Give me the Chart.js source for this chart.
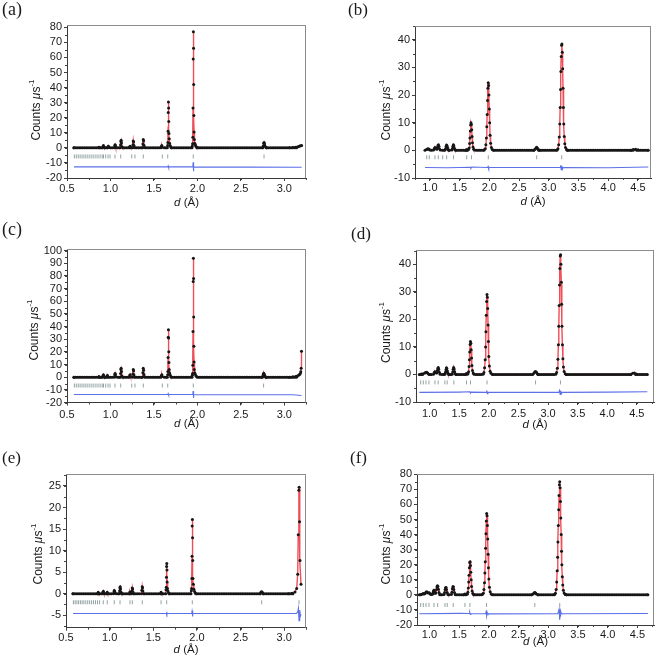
<!DOCTYPE html>
<html>
<head>
<meta charset="utf-8">
<script src="https://cdn.jsdelivr.net/npm/chart.js@4.4.1/dist/chart.umd.min.js"></script>
<style>
  body { margin: 0; background: #fff; width: 659px; height: 657px; position: relative; overflow: hidden; }
  canvas { position: absolute; }
</style>
</head>
<body>
<canvas id="pa"></canvas>
<canvas id="pb"></canvas>
<canvas id="pc"></canvas>
<canvas id="pd"></canvas>
<canvas id="pe"></canvas>
<canvas id="pf"></canvas>
<script>
// ---- data: [d (A), counts per us] ----

// background d positions where the observed counts sit on zero
var shortBg = [0.58,0.60,0.62,0.64,0.66,0.68,0.70,0.72,0.74,0.76,0.78,0.80,0.82,0.84,0.86,0.88,0.90,0.92,0.94,0.96,0.98,1.00,1.02,1.04,1.06,1.08,1.10,1.12,1.14,1.16,1.18,1.20,1.22,1.24,1.26,1.28,1.30,1.32,1.34,1.36,1.38,1.40,1.42,1.44,1.46,1.48,1.50,1.52,1.54,1.56,1.58,1.60,1.62,1.64,1.66,1.68,1.70,1.72,1.74,1.76,1.78,1.80,1.82,1.84,1.86,1.88,1.90,1.92,1.94,1.96,1.98,2.00,2.02,2.04,2.06,2.08,2.10,2.12,2.14,2.16,2.18,2.20,2.22,2.24,2.26,2.28,2.30,2.32,2.34,2.36,2.38,2.40,2.42,2.44,2.46,2.48,2.50,2.52,2.54,2.56,2.58,2.60,2.62,2.64,2.66,2.68,2.70,2.72,2.74,2.76,2.78,2.80,2.82,2.84,2.86,2.88,2.90,2.92,2.94,2.96,2.98,3.00,3.02,3.04,3.06,3.08,3.10,3.12,3.14,3.16,3.18,3.20];
var longBg = [0.82,0.85,0.88,0.91,0.94,0.97,1.00,1.03,1.06,1.09,1.12,1.15,1.18,1.21,1.24,1.27,1.30,1.33,1.36,1.39,1.42,1.45,1.48,1.51,1.54,1.57,1.60,1.63,1.66,1.69,1.72,1.75,1.78,1.81,1.84,1.87,1.90,1.93,1.96,1.99,2.02,2.05,2.08,2.11,2.14,2.17,2.20,2.23,2.26,2.29,2.32,2.35,2.38,2.41,2.44,2.47,2.50,2.53,2.56,2.59,2.62,2.65,2.68,2.71,2.74,2.77,2.80,2.83,2.86,2.89,2.92,2.95,2.98,3.01,3.04,3.07,3.10,3.13,3.16,3.19,3.22,3.25,3.28,3.31,3.34,3.37,3.40,3.43,3.46,3.49,3.52,3.55,3.58,3.61,3.64,3.67,3.70,3.73,3.76,3.79,3.82,3.85,3.88,3.91,3.94,3.97,4.00,4.03,4.06,4.09,4.12,4.15,4.18,4.21,4.24,4.27,4.30,4.33,4.36,4.39,4.42,4.45,4.48,4.51,4.54,4.57,4.60,4.63,4.66];

// (a)
var aObs = [[0.58,0],[0.86,0],[0.868,0.4],[0.876,0],
  [0.908,0],[0.914,0.8],[0.919,1.5],[0.925,0.6],[0.932,0],[0.966,0],[0.972,0.7],[0.977,1],[0.984,0.2],
  [1.044,0],[1.049,1.2],[1.053,2],[1.057,1.5],[1.063,0.2],
  [1.111,0],[1.116,2],[1.120,4.2],[1.123,5],[1.127,3.2],[1.133,0.8],[1.140,0],
  [1.216,0],[1.222,0.7],[1.226,1],[1.232,0.2],
  [1.253,0],[1.258,2],[1.262,4.5],[1.266,3.8],[1.270,1.5],[1.277,0.2],
  [1.368,0],[1.373,2.5],[1.377,5.5],[1.381,4.5],[1.385,1.8],[1.392,0.3],
  [1.580,0],[1.586,0.9],[1.591,1.5],[1.597,0.4],
  [1.654,0],[1.658,1.5],[1.661,3.5],[1.663,11],[1.665,23.5],[1.667,30.5],[1.669,26.5],[1.671,17.5],[1.673,9.5],[1.676,6],[1.680,3],[1.686,1.5],[1.694,0.5],[1.700,0],
  [1.938,0],[1.942,1.3],[1.945,2.8],[1.948,7],[1.950,26.5],[1.952,59],[1.954,77],[1.956,66],[1.958,42],[1.960,21.5],[1.962,10.5],[1.965,5.5],[1.969,3],[1.975,2.3],[1.983,1],[1.993,0.3],[2.003,0],
  [2.752,0],[2.758,1.3],[2.763,3],[2.768,3.6],[2.773,2.6],[2.780,1],[2.788,0.3],[2.796,0],
  [3.06,0],[3.10,0.2],[3.13,0.4],[3.15,0.6],[3.165,0.9],[3.178,1.2],[3.19,1.4],[3.20,1.6]];
var aRefl = [0.585,0.607,0.629,0.651,0.673,0.695,0.717,0.740,0.763,0.786,0.809,0.833,0.857,0.881,0.905,0.920,0.945,0.972,0.995,1.052,1.118,1.245,1.282,1.378,1.597,1.659,1.953,2.767];
var aDiff = [[0.58,-12.6],[1.660,-12.6],[1.664,-12.0],[1.668,-13.2],[1.672,-12.6],[1.945,-12.6],[1.949,-11.5],[1.952,-9.5],[1.955,-15.5],[1.958,-13.5],[1.962,-12.6],[3.20,-12.9]];

// (b)
var bObs = [[0.918,0],[0.945,0.3],[0.958,0.5],[0.972,0.6],[0.986,0.4],[1.00,0.1],
  [1.062,0.1],[1.075,0.7],[1.086,1],[1.097,0.6],
  [1.118,0.4],[1.128,1.1],[1.136,1.8],[1.144,2],[1.152,1.5],[1.162,0.6],[1.175,0.1],
  [1.255,0.1],[1.265,0.6],[1.273,1.4],[1.281,1.9],[1.289,1.7],[1.297,1.0],[1.307,0.3],[1.32,0],
  [1.370,0.1],[1.380,0.7],[1.388,1.5],[1.396,2],[1.404,1.6],[1.412,0.8],[1.422,0.2],[1.435,0],
  [1.605,0],[1.62,0.3],[1.635,0.1],
  [1.650,0.3],[1.660,0.9],[1.668,2.5],[1.674,4.5],[1.680,7],[1.686,9.2],[1.692,10],[1.698,9.4],[1.704,7.5],[1.710,5],[1.717,2.8],[1.726,1.2],[1.738,0.4],[1.75,0.1],
  [1.915,0.1],[1.930,0.6],[1.942,2],[1.951,4.5],[1.958,8.5],[1.964,13],[1.970,18],[1.976,22.5],[1.982,24.5],[1.988,23.5],[1.994,20],[2.000,15],[2.006,10],[2.013,5.5],[2.022,2.6],[2.035,1],[2.05,0.3],[2.07,0],
  [2.75,0],[2.77,0.4],[2.785,0.9],[2.797,1.1],[2.81,0.8],[2.825,0.3],[2.845,0],
  [3.14,0.1],[3.155,0.6],[3.167,2],[3.177,4.8],[3.185,9.5],[3.192,15.5],[3.198,22],[3.204,28.5],[3.210,34],[3.216,38],[3.222,38.5],[3.228,35.5],[3.234,29.5],[3.240,22.5],[3.246,15.5],[3.253,9.5],[3.261,5],[3.270,2.4],[3.282,1],[3.30,0.3],[3.32,0],
  [4.38,0],[4.42,0.3],[4.46,0.4],[4.50,0.2],[4.674,0]];
var bRefl = [0.947,0.99,1.086,1.142,1.216,1.283,1.398,1.62,1.70,1.983,2.797,3.218];
var bDiff = [[0.918,-6.2],[1.30,-6.3],[1.68,-6.1],[1.69,-6.4],[1.70,-6.0],[1.97,-6.2],[1.98,-5.8],[1.99,-6.6],[2.0,-6.2],[3.19,-6.2],[3.20,-5.4],[3.21,-7.0],[3.22,-5.6],[3.23,-6.8],[3.24,-6.2],[4.0,-6.3],[4.674,-6.0]];

// (c)
var cObs = [[0.58,0],[0.86,0],[0.868,0.5],[0.876,0],
  [0.908,0],[0.914,1.2],[0.919,2],[0.925,0.8],[0.932,0],[0.955,0],[0.961,1],[0.966,1.3],[0.973,0.2],
  [1.044,0],[1.049,2],[1.053,3],[1.057,2.2],[1.063,0.3],
  [1.111,0],[1.116,3],[1.120,6],[1.123,7],[1.127,4.5],[1.133,1],[1.140,0],
  [1.216,0],[1.222,1.3],[1.226,2],[1.232,0.4],
  [1.253,0],[1.258,2.5],[1.262,6],[1.266,5],[1.270,2],[1.277,0.3],
  [1.368,0],[1.373,3.5],[1.377,7],[1.381,5.5],[1.385,2.2],[1.392,0.3],
  [1.580,0],[1.586,1.2],[1.591,2],[1.597,0.5],
  [1.654,0],[1.658,2],[1.661,4.5],[1.663,15.5],[1.665,31.5],[1.667,37.5],[1.669,31],[1.671,20],[1.673,11.5],[1.676,6],[1.680,3.5],[1.686,2],[1.694,0.6],[1.700,0],
  [1.938,0],[1.942,1.5],[1.945,3],[1.948,9.5],[1.950,36],[1.952,75.5],[1.954,94],[1.956,78],[1.958,47.5],[1.960,24.5],[1.962,12],[1.965,6],[1.969,3.5],[1.975,2.5],[1.983,1.2],[1.993,0.4],[2.003,0],
  [2.748,0],[2.754,1.2],[2.759,2.6],[2.764,3.2],[2.769,2.4],[2.776,0.9],[2.784,0.2],[2.792,0],
  [3.06,0],[3.10,0.3],[3.13,0.6],[3.15,1],[3.165,1.6],[3.176,2.2],[3.184,3],[3.19,4.2],[3.194,7],[3.198,20.5]];
var cRefl = [0.585,0.607,0.629,0.651,0.673,0.695,0.717,0.740,0.763,0.786,0.809,0.833,0.857,0.881,0.905,0.920,0.945,0.972,0.995,1.052,1.118,1.245,1.282,1.378,1.597,1.659,1.953,2.762];
var cDiff = [[0.58,-13.7],[1.660,-13.7],[1.664,-13.0],[1.668,-14.2],[1.672,-13.7],[1.945,-13.7],[1.949,-12.5],[1.952,-11],[1.955,-16.5],[1.958,-14.5],[1.962,-13.7],[3.10,-13.9],[3.198,-14.5]];

// (d)
var dObs = [[0.826,0],[0.86,0.2],[0.89,0.3],[0.92,0.5],[0.935,0.7],[0.95,0.8],[0.965,0.5],[0.98,0.2],[1.00,0],
  [1.065,0.1],[1.078,0.7],[1.090,1],[1.100,0.6],
  [1.120,0.5],[1.130,1.4],[1.138,2.2],[1.146,2.5],[1.154,1.9],[1.164,0.8],[1.177,0.1],
  [1.258,0.1],[1.268,0.8],[1.276,1.7],[1.284,2.4],[1.292,2.2],[1.300,1.3],[1.310,0.4],[1.323,0],
  [1.380,0.1],[1.390,0.9],[1.398,1.9],[1.406,2.5],[1.414,2],[1.422,1],[1.432,0.3],[1.445,0],
  [1.605,0],[1.62,0.35],[1.635,0.1],
  [1.648,0.3],[1.658,1],[1.666,2.9],[1.672,5.3],[1.678,8.2],[1.684,10.9],[1.690,12],[1.696,11.3],[1.702,9],[1.708,6],[1.715,3.3],[1.724,1.4],[1.736,0.5],[1.75,0.1],
  [1.902,0.1],[1.917,0.7],[1.929,2.4],[1.938,5.3],[1.945,10],[1.951,15.5],[1.957,21.5],[1.963,26.5],[1.969,29],[1.975,28],[1.981,24],[1.987,18],[1.993,12],[2.000,6.5],[2.009,3.1],[2.022,1.2],[2.037,0.4],[2.06,0],
  [2.74,0],[2.76,0.4],[2.775,0.9],[2.79,1.1],[2.805,0.8],[2.82,0.3],[2.84,0],
  [3.13,0.1],[3.145,0.7],[3.157,2.3],[3.167,5.5],[3.175,10.8],[3.182,17.5],[3.188,25],[3.194,32.5],[3.200,38.5],[3.206,43],[3.212,43.5],[3.218,40],[3.224,33.5],[3.230,25.5],[3.236,17.5],[3.243,10.8],[3.251,5.7],[3.260,2.7],[3.272,1.1],[3.29,0.3],[3.31,0],
  [4.40,0],[4.43,0.4],[4.46,0.5],[4.49,0.2],[4.677,0]];
var dRefl = [0.849,0.893,0.938,0.989,1.090,1.145,1.258,1.297,1.409,1.623,1.690,1.970,2.789,3.210];
var dDiff = [[0.826,-6.5],[1.5,-6.4],[1.68,-6.3],[1.69,-6.8],[1.70,-6.4],[1.96,-6.5],[1.965,-5.8],[1.975,-7.0],[1.985,-6.5],[3.18,-6.5],[3.195,-5.8],[3.205,-7.3],[3.215,-5.9],[3.225,-7.0],[3.24,-6.5],[4.0,-6.4],[4.677,-6.3]];

// (e)
var eObs = [[0.58,0],[0.862,0],[0.869,0.3],[0.876,0],
  [0.918,0],[0.923,0.3],[0.928,0.55],[0.934,0.1],[0.966,0],[0.972,0.35],[0.978,0],
  [1.044,0],[1.049,0.4],[1.053,0.75],[1.057,0.55],[1.063,0.1],
  [1.109,0],[1.114,0.7],[1.118,1.4],[1.121,1.6],[1.125,1.1],[1.131,0.3],[1.138,0],
  [1.226,0],[1.232,0.4],[1.238,0],
  [1.250,0],[1.255,0.6],[1.259,1.3],[1.263,1.1],[1.267,0.4],[1.274,0],
  [1.364,0],[1.369,0.8],[1.373,1.6],[1.377,1.4],[1.381,0.6],[1.388,0],
  [1.582,0],[1.589,0.35],[1.596,0],
  [1.642,0],[1.646,0.9],[1.649,1.5],[1.651,3.8],[1.653,6.3],[1.655,7],[1.657,5.5],[1.659,2.7],[1.662,1.2],[1.667,0.6],[1.675,0.2],[1.683,0],
  [1.932,0],[1.936,0.7],[1.939,1.2],[1.942,3.5],[1.944,8.7],[1.946,15.7],[1.948,17.2],[1.950,13],[1.952,7.7],[1.955,3.5],[1.959,2.2],[1.965,1],[1.973,0.5],[1.983,0.1],[1.990,0],
  [2.725,0],[2.733,0.3],[2.741,0.45],[2.749,0.3],[2.758,0],
  [3.05,0],[3.09,0.1],[3.124,0.4],[3.143,1.2],[3.155,4.5],[3.161,13.7],[3.168,24],[3.171,24.7],[3.176,16.7],[3.181,7.7],[3.193,2.2]];
var eRefl = [0.585,0.605,0.625,0.645,0.665,0.685,0.705,0.727,0.749,0.771,0.793,0.815,0.838,0.861,0.885,0.927,0.973,1.053,1.119,1.233,1.260,1.374,1.589,1.654,1.947,2.742,3.170];
var eDiff = [[0.58,-4.6],[1.649,-4.6],[1.653,-4.2],[1.657,-4.9],[1.661,-4.6],[1.940,-4.6],[1.944,-4.1],[1.948,-3.9],[1.951,-5.3],[1.955,-4.8],[1.960,-4.6],[3.14,-4.6],[3.155,-4.3],[3.163,-3.4],[3.170,-6.3],[3.178,-3.8],[3.186,-5.2],[3.193,-4.8]];

// (f)
var fObs = [[0.829,0],[0.86,0.3],[0.882,0.6],[0.896,0.9],[0.91,0.6],[0.925,0.9],[0.940,1.7],[0.953,2],[0.966,1.5],[0.980,1.2],[0.997,1.4],[1.012,0.6],[1.03,0.2],
  [1.050,0.4],[1.060,1.5],[1.068,2.6],[1.076,3],[1.084,2.3],[1.094,1],
  [1.108,1.2],[1.118,3.5],[1.126,5.3],[1.134,6],[1.142,5.5],[1.150,3.8],[1.160,1.5],[1.173,0.3],
  [1.245,0.3],[1.255,1.5],[1.263,3.5],[1.271,4.8],[1.279,4.9],[1.287,3.6],[1.297,1.6],[1.310,0.3],
  [1.368,0.3],[1.378,1.8],[1.386,4],[1.394,5.4],[1.402,5.3],[1.410,3.6],[1.420,1.5],[1.433,0.3],
  [1.58,0.1],[1.597,0.5],[1.612,0.1],
  [1.635,0.4],[1.646,1.8],[1.654,4.5],[1.660,8.5],[1.666,13],[1.672,18],[1.678,21.5],[1.684,22],[1.690,19.5],[1.696,15],[1.702,10],[1.709,5.5],[1.718,2.5],[1.730,0.9],[1.745,0.2],
  [1.890,0.2],[1.905,1],[1.917,3.5],[1.926,8],[1.933,14.5],[1.939,22],[1.945,31],[1.951,40.5],[1.957,49],[1.963,54],[1.969,52.5],[1.975,46],[1.981,37],[1.987,27],[1.993,18],[2.000,10.5],[2.009,5],[2.022,2],[2.038,0.6],[2.06,0],
  [2.72,0],[2.745,0.6],[2.76,1.3],[2.773,1.6],[2.786,1.2],[2.80,0.5],[2.825,0],
  [3.105,0.2],[3.120,1],[3.132,3.5],[3.142,8.5],[3.150,16],[3.157,25],[3.163,35],[3.169,46],[3.175,56.5],[3.181,66],[3.187,73],[3.193,75],[3.199,71],[3.205,62],[3.211,51],[3.217,40],[3.223,29],[3.229,20],[3.236,12],[3.244,6.5],[3.254,3],[3.267,1.2],[3.285,0.3],[3.305,0],
  [4.677,0]];
var fRefl = [0.852,0.896,0.941,0.992,1.076,1.138,1.261,1.299,1.400,1.597,1.681,1.961,2.773,3.193];
var fDiff = [[0.829,-12.5],[1.5,-12.3],[1.67,-12.4],[1.678,-11.6],[1.688,-13.0],[1.696,-12.4],[1.945,-12.5],[1.953,-11.3],[1.960,-10.3],[1.968,-14.0],[1.976,-12.0],[1.985,-12.6],[3.16,-12.5],[3.172,-11.0],[3.182,-9.5],[3.192,-16.5],[3.200,-14.0],[3.208,-10.8],[3.218,-12.2],[3.23,-12.5],[4.677,-12.4]];

// ---- layout of the six panels (page pixels) ----
var panels = [
  { tag: 'a', obs: aObs, refl: aRefl, diff: aDiff, bg: shortBg, gap: 0.009, cx: 0, cy: 0, cw: 330, ch: 219,
    box: [67, 25, 306, 178], xr: [0.5, 3.25], yr: [-20, 81.5], yStep: 10, reflY: -5.7,
    xPad: 1, xLabY: 203, yLab: [36.7, 110], tagPos: [2, 14.5], tagSize: 18 },
  { tag: 'b', obs: bObs, refl: bRefl, diff: bDiff, bg: longBg, gap: 0.02, cx: 330, cy: 0, cw: 329, ch: 219,
    box: [415, 26, 651, 178], xr: [0.75, 4.72], yr: [-10, 45], yStep: 10, reflY: -2.5,
    xPad: 0, xLabY: 202, yLab: [386.7, 110], tagPos: [348, 14.5], tagSize: 17 },
  { tag: 'c', obs: cObs, refl: cRefl, diff: cDiff, bg: shortBg, gap: 0.009, cx: 0, cy: 220, cw: 330, ch: 219,
    box: [67, 249.3, 306, 402.5], xr: [0.5, 3.25], yr: [-20, 101], yStep: 10, reflY: -6.6,
    xPad: 2.5, xLabY: 424, yLab: [35, 330], tagPos: [2, 235], tagSize: 18 },
  { tag: 'd', obs: dObs, refl: dRefl, diff: dDiff, bg: longBg, gap: 0.02, cx: 330, cy: 220, cw: 329, ch: 219,
    box: [416, 250, 655, 402], xr: [0.77, 4.79], yr: [-10, 45.2], yStep: 10, reflY: -2.9,
    xPad: 2, xLabY: 425, yLab: [386.7, 332.5], tagPos: [351, 239], tagSize: 17 },
  { tag: 'e', obs: eObs, refl: eRefl, diff: eDiff, bg: shortBg, gap: 0.009, cx: 0, cy: 440, cw: 330, ch: 217,
    box: [66, 474.3, 306, 627.7], xr: [0.5, 3.25], yr: [-7.9, 27.7], yStep: 5, reflY: -2.0,
    xPad: 0.5, xLabY: 650, yLab: [38.3, 554], tagPos: [2, 462.5], tagSize: 17 },
  { tag: 'f', obs: fObs, refl: fRefl, diff: fDiff, bg: longBg, gap: 0.02, cx: 330, cy: 440, cw: 329, ch: 217,
    box: [417, 474.3, 655, 625], xr: [0.79, 4.78], yr: [-20, 80], yStep: 10, reflY: -6.7,
    xPad: 0, xLabY: 642, yLab: [386.7, 554], tagPos: [350, 462.5], tagSize: 17 }
];

var SANS = '"Liberation Sans", Arial, sans-serif';
var SERIF = '"Liberation Serif", "Times New Roman", serif';
var YW = 30, XH = 20;

function toXY(arr) { return arr.map(function (p) { return { x: p[0], y: p[1] }; }); }

// draws frame, minor ticks and the axis / panel texts
function decor(p) {
  return {
    id: 'decor' + p.tag,
    afterDraw: function (chart) {
      var ctx = chart.ctx, a = chart.chartArea;
      var xs = chart.scales.x, ys = chart.scales.y;
      ctx.save();
      ctx.strokeStyle = '#8c8c8c';
      ctx.lineWidth = 1;
      ctx.beginPath();
      ctx.moveTo(a.left, Math.round(a.top) + 0.5); ctx.lineTo(a.right, Math.round(a.top) + 0.5);
      ctx.moveTo(Math.round(a.right) - 0.5, a.top); ctx.lineTo(Math.round(a.right) - 0.5, a.bottom);
      ctx.stroke();

      ctx.strokeStyle = '#444';
      ctx.beginPath();
      var v, px;
      for (v = Math.ceil(xs.min / 0.25) * 0.25; v <= xs.max + 1e-9; v += 0.25) {
        px = Math.round(xs.getPixelForValue(v)) + 0.5;
        ctx.moveTo(px, a.bottom); ctx.lineTo(px, a.bottom + 2);
      }
      var ym = p.yStep / 2;
      for (v = Math.ceil(ys.min / ym) * ym; v <= ys.max + 1e-9; v += ym) {
        px = Math.round(ys.getPixelForValue(v)) + 0.5;
        ctx.moveTo(a.left, px); ctx.lineTo(a.left - 2, px);
      }
      ctx.stroke();

      ctx.fillStyle = '#1a1a1a';
      // panel tag
      ctx.font = p.tagSize + 'px ' + SERIF;
      ctx.textBaseline = 'alphabetic';
      ctx.textAlign = 'left';
      ctx.fillText('(' + p.tag + ')', p.tagPos[0] - p.cx, p.tagPos[1] - p.cy);

      // x title: d (Å)
      ctx.textBaseline = 'middle';
      var f1 = 'italic 11.5px ' + SANS, f2 = '11.5px ' + SANS;
      ctx.font = f1; var w1 = ctx.measureText('d').width;
      ctx.font = f2; var w2 = ctx.measureText(' (Å)').width;
      var x0 = (a.left + a.right) / 2 - (w1 + w2) / 2, y0 = p.xLabY - p.cy;
      ctx.font = f1; ctx.fillText('d', x0, y0);
      ctx.font = f2; ctx.fillText(' (Å)', x0 + w1, y0);

      // y title: Counts μs⁻¹
      ctx.translate(p.yLab[0] - p.cx, p.yLab[1] - p.cy);
      ctx.rotate(-Math.PI / 2);
      var parts = [['Counts ', '12px ', 0], ['μ', 'italic 12px ', 0], ['s', '12px ', 0], ['-1', '8px ', -5]];
      var total = 0;
      parts.forEach(function (q) { ctx.font = q[1] + SANS; q.push(ctx.measureText(q[0]).width); total += q[3]; });
      var cx = -total / 2;
      parts.forEach(function (q) {
        ctx.font = q[1] + SANS;
        ctx.fillText(q[0], cx, q[2]);
        cx += q[3];
      });
      ctx.restore();
    }
  };
}

panels.forEach(function (p) {
  var cv = document.getElementById('p' + p.tag);
  cv.width = p.cw; cv.height = p.ch;
  cv.style.left = p.cx + 'px'; cv.style.top = p.cy + 'px';

  var first = p.obs[0][0], last = p.obs[p.obs.length - 1][0];
  var bgPts = p.bg.filter(function (x) {
    if (x < first || x > last) return false;
    return !p.obs.some(function (q) { return q[1] > 0.3 && Math.abs(q[0] - x) < p.gap; });
  }).map(function (x) { return { x: x, y: 0 }; });

  new Chart(cv, {
    type: 'scatter',
    data: {
      datasets: [
        { data: toXY(p.obs).concat(bgPts), pointRadius: 1.5, pointBackgroundColor: '#161616',
          pointBorderWidth: 0, order: 0 },
        { data: toXY(p.obs), showLine: true, borderColor: 'rgb(238,78,88)', borderWidth: 1.4,
          pointRadius: 0, tension: 0, order: 1 },
        { data: p.refl.map(function (d) { return { x: d, y: p.reflY }; }), pointStyle: 'line',
          pointRotation: 90, pointRadius: 2, pointBorderColor: 'rgba(120,140,140,0.8)', pointBorderWidth: 1, order: 2 },
        { data: toXY(p.diff), showLine: true, borderColor: 'rgb(92,112,232)', borderWidth: 1.1,
          pointRadius: 0, tension: 0, order: 3 }
      ]
    },
    options: {
      responsive: false,
      animation: false,
      devicePixelRatio: 1,
      events: [],
      layout: {
        padding: {
          left: p.box[0] - p.cx - YW,
          top: p.box[1] - p.cy,
          right: p.cx + p.cw - p.box[2],
          bottom: p.cy + p.ch - p.box[3] - XH
        }
      },
      plugins: { legend: { display: false }, tooltip: { enabled: false } },
      scales: {
        x: {
          type: 'linear', min: p.xr[0], max: p.xr[1],
          afterFit: function (s) { s.height = XH; },
          border: { display: true, color: '#3a3a3a', width: 1 },
          grid: { drawOnChartArea: false, drawTicks: true, tickLength: 3, color: '#3a3a3a' },
          ticks: { stepSize: 0.5, includeBounds: false, autoSkip: false, maxRotation: 0,
            padding: p.xPad, color: '#1a1a1a', font: { family: SANS, size: 11 },
            callback: function (v) { return v.toFixed(1); } }
        },
        y: {
          type: 'linear', min: p.yr[0], max: p.yr[1],
          afterFit: function (s) { s.width = YW; },
          border: { display: true, color: '#3a3a3a', width: 1 },
          grid: { drawOnChartArea: false, drawTicks: true, tickLength: 3, color: '#3a3a3a' },
          ticks: { stepSize: p.yStep, includeBounds: false, autoSkip: false,
            padding: 2, color: '#1a1a1a', font: { family: SANS, size: 11 },
            callback: function (v) { return String(v); } }
        }
      }
    },
    plugins: [decor(p)]
  });
});
</script>
</body>
</html>
